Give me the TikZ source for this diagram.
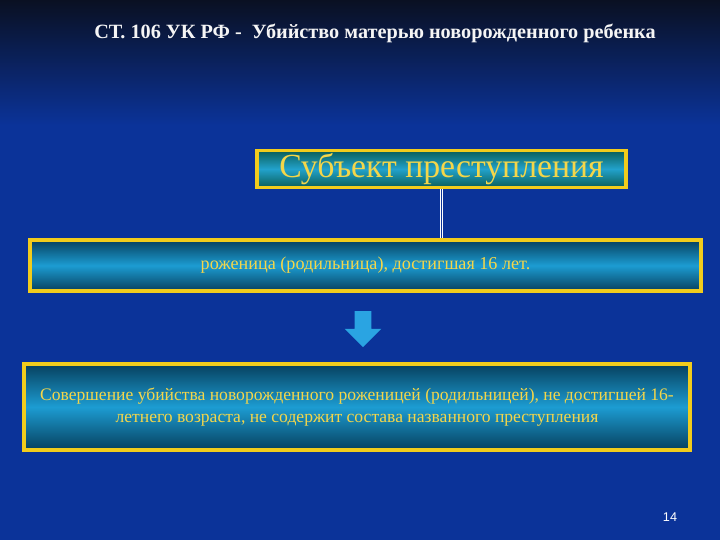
\documentclass[tikz,border=0pt]{standalone}
\usepackage{fontspec}
\setmainfont{Liberation Serif}
\setsansfont{Liberation Sans}
\usetikzlibrary{positioning,shapes.arrows}
\definecolor{bgtop}{HTML}{0A1022}
\definecolor{bgblue}{HTML}{0B3399}
\definecolor{frameyellow}{HTML}{F2CC1C}
\definecolor{textyellow}{HTML}{F4D64A}
\definecolor{tealdark}{HTML}{0A5E58}
\definecolor{teallight}{HTML}{22A2CC}
\definecolor{boxdark}{HTML}{07405E}
\definecolor{boxlight}{HTML}{1C9CD2}
\definecolor{arrowblue}{HTML}{2AA4E2}

\begin{document}
\begin{tikzpicture}[x=0.025cm,y=-0.025cm,
    frame box/.style={draw=frameyellow,line width=2.8pt,inner sep=0pt,align=center,text=textyellow,top color=boxdark,bottom color=boxdark,middle color=boxlight},
    head box/.style={frame box,top color=tealdark,bottom color=tealdark,middle color=teallight,font=\fontsize{24}{26}\selectfont},
    down arrow/.style={single arrow,fill=arrowblue,draw=none,rotate=-90,inner sep=0.2cm,minimum height=0.9cm,single arrow head extend=0.25cm}]
    % background
    \fill[top color=bgtop,bottom color=bgblue] (0,0) rectangle (720,125);
    \fill[bgblue] (0,125) rectangle (720,540);
    \useasboundingbox (0,0) rectangle (720,540);

    \node[text=white!92!gray,font=\bfseries\fontsize{14.4}{16}\selectfont] (title) at (375,33) {СТ. 106 УК РФ -\ \ Убийство матерью новорожденного ребенка};
    \node[head box,minimum width=9.225cm,minimum height=0.925cm] (subj) at (441.5,169) {Субъект преступления};
    \node[frame box,minimum width=16.775cm,minimum height=1.275cm,font=\fontsize{12.9}{14}\selectfont] (woman) at (365.5,265.5) {роженица (родильница), достигшая 16 лет.};
    \node[down arrow] (arr) at (363,325) {};
    \node[frame box,minimum width=16.65cm,minimum height=2.15cm,font=\fontsize{12.5}{16}\selectfont] (rule) at (357,407) {Совершение убийства новорожденного роженицей (родильницей), не достигшей 16-\\летнего возраста, не содержит состава названного преступления};
    \node[text=white,font=\sffamily\fontsize{9}{10}\selectfont] (page) at (670,517) {14};

    \draw[white,line width=0.5pt,double=bgblue,double distance=1pt] (subj.south) -- (subj.south |- woman.north);
\end{tikzpicture}
\end{document}
